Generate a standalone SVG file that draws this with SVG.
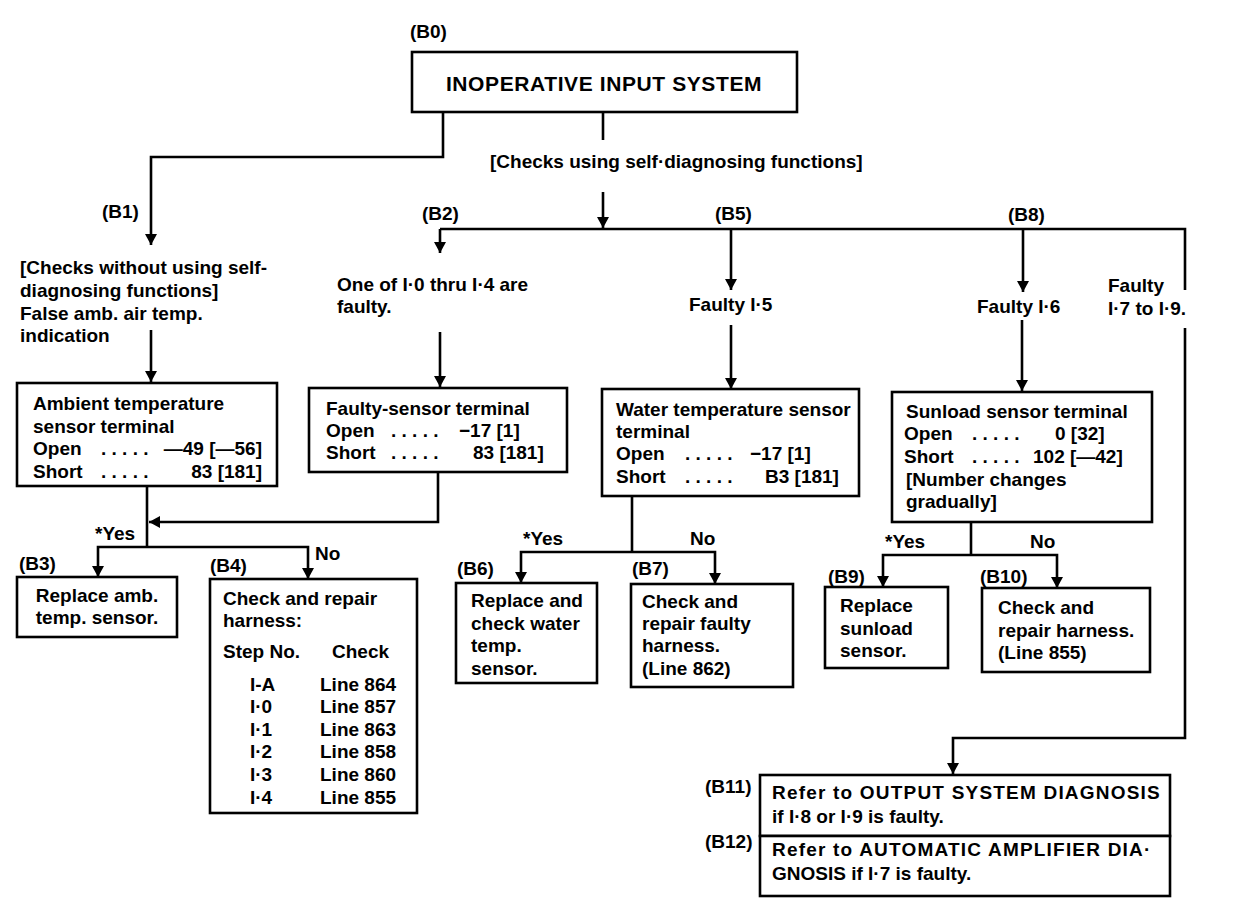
<svg xmlns="http://www.w3.org/2000/svg" width="1248" height="922" viewBox="0 0 1248 922">
<style>
text{font-family:"Liberation Sans",Arial,sans-serif;font-weight:bold;font-size:19px;fill:#000}
.title{font-size:21px;letter-spacing:0.6px}
.wide{letter-spacing:1.2px}
.box{fill:#fff;stroke:#000;stroke-width:2.6}
.ln{fill:none;stroke:#000;stroke-width:2.6}
.arr{fill:none;stroke:#000;stroke-width:2.6;marker-end:url(#ah)}
.mid{text-anchor:middle}
.end{text-anchor:end}
</style>
<defs>
<marker id="ah" viewBox="0 0 11 12" refX="11" refY="6" markerWidth="11" markerHeight="12" markerUnits="userSpaceOnUse" orient="auto">
<path d="M0,0 L11,6 L0,12 z" fill="#000"/>
</marker>
</defs>
<rect width="1248" height="922" fill="#fff"/>

<g id="connectors">
<path class="arr" d="M443,112 V157 H151 V245"/>
<path class="ln" d="M603,112 V140"/>
<path class="arr" d="M603,192 V228"/>
<path class="ln" d="M440,229 H1185 V290"/>
<path class="arr" d="M440,229 V253"/>
<path class="arr" d="M731,229 V290"/>
<path class="arr" d="M1023,229 V292"/>
<path class="arr" d="M1185,328 V738 H953 V774"/>
<path class="arr" d="M151,330 V382"/>
<path class="arr" d="M440,332 V387"/>
<path class="arr" d="M731,325 V389"/>
<path class="arr" d="M1022,320 V391"/>
<path class="ln" d="M147,486 V547"/>
<path class="arr" d="M147,547 H98 V577"/>
<path class="arr" d="M147,547 H308 V579"/>
<path class="arr" d="M438,472 V522 H149"/>
<path class="ln" d="M632,496 V552"/>
<path class="arr" d="M632,552 H521 V583"/>
<path class="arr" d="M632,552 H715 V584"/>
<path class="ln" d="M971,522 V555"/>
<path class="arr" d="M971,555 H883 V587"/>
<path class="arr" d="M971,555 H1057 V588"/>
<text x="490" y="168">[Checks using self·diagnosing functions]</text>
<text x="95" y="540">*Yes</text>
<text x="315" y="560">No</text>
<text x="523" y="545">*Yes</text>
<text x="690" y="545">No</text>
<text x="885" y="548">*Yes</text>
<text x="1030" y="548">No</text>
</g>

<g id="B0">
<text x="410" y="38">(B0)</text>
<rect class="box" x="412" y="52" width="385" height="60"/>
<text class="title mid" x="604" y="91">INOPERATIVE INPUT SYSTEM</text>
</g>

<g id="B1">
<text x="102" y="218">(B1)</text>
<text x="20" y="274">[Checks without using self-</text>
<text x="20" y="297">diagnosing functions]</text>
<text x="20" y="320">False amb. air temp.</text>
<text x="20" y="342">indication</text>
</g>

<g id="B1-terminal">
<rect class="box" x="17" y="383" width="260" height="103"/>
<text x="33" y="410">Ambient temperature</text>
<text x="33" y="433">sensor terminal</text>
<text x="33" y="455">Open</text>
<text x="101" y="455">. . . . .</text>
<text class="end" x="262" y="455">—49 [—56]</text>
<text x="33" y="478">Short</text>
<text x="101" y="478">. . . . .</text>
<text class="end" x="262" y="478">83 [181]</text>
</g>

<g id="B2">
<text x="422" y="220">(B2)</text>
<text x="337" y="291">One of I·0 thru I·4 are</text>
<text x="337" y="313">faulty.</text>
</g>

<g id="B2-terminal">
<rect class="box" x="309" y="388" width="258" height="84"/>
<text x="326" y="415">Faulty-sensor terminal</text>
<text x="326" y="437">Open</text>
<text x="391" y="437">. . . . .</text>
<text x="459" y="437">−17 [1]</text>
<text x="326" y="459">Short</text>
<text x="391" y="459">. . . . .</text>
<text x="473" y="459">83 [181]</text>
</g>

<g id="B5">
<text x="715" y="220">(B5)</text>
<text x="689" y="311">Faulty I·5</text>
</g>

<g id="B5-terminal">
<rect class="box" x="602" y="389" width="257" height="107"/>
<text x="616" y="416">Water temperature sensor</text>
<text x="616" y="438">terminal</text>
<text x="616" y="460">Open</text>
<text x="685" y="460">. . . . .</text>
<text x="750" y="460">−17 [1]</text>
<text x="616" y="483">Short</text>
<text x="685" y="483">. . . . .</text>
<text x="765" y="483">B3 [181]</text>
</g>

<g id="B8">
<text x="1008" y="221">(B8)</text>
<text x="977" y="313">Faulty I·6</text>
<text x="1108" y="292">Faulty</text>
<text x="1108" y="315">I·7 to I·9.</text>
</g>

<g id="B8-terminal">
<rect class="box" x="892" y="392" width="260" height="130"/>
<text x="906" y="418">Sunload sensor terminal</text>
<text x="904" y="440">Open</text>
<text x="972" y="440">. . . . .</text>
<text x="1055" y="440">0 [32]</text>
<text x="904" y="463">Short</text>
<text x="972" y="463">. . . . .</text>
<text x="1033" y="463">102 [—42]</text>
<text x="906" y="486">[Number changes</text>
<text x="906" y="508">gradually]</text>
</g>

<g id="B3">
<text x="19" y="570">(B3)</text>
<rect class="box" x="17" y="577" width="160" height="60"/>
<text class="mid" x="97" y="602">Replace amb.</text>
<text class="mid" x="97" y="624">temp. sensor.</text>
</g>

<g id="B4">
<text x="210" y="572">(B4)</text>
<rect class="box" x="210" y="579" width="207" height="234"/>
<text x="223" y="605">Check and repair</text>
<text x="223" y="627">harness:</text>
<text x="223" y="658">Step No.</text>
<text x="332" y="658">Check</text>
<text x="250" y="691">I-A</text><text x="320" y="691">Line 864</text>
<text x="250" y="713">I·0</text><text x="320" y="713">Line 857</text>
<text x="250" y="736">I·1</text><text x="320" y="736">Line 863</text>
<text x="250" y="758">I·2</text><text x="320" y="758">Line 858</text>
<text x="250" y="781">I·3</text><text x="320" y="781">Line 860</text>
<text x="250" y="804">I·4</text><text x="320" y="804">Line 855</text>
</g>

<g id="B6">
<text x="457" y="575">(B6)</text>
<rect class="box" x="456" y="583" width="141" height="100"/>
<text x="471" y="607">Replace and</text>
<text x="471" y="630">check water</text>
<text x="471" y="652">temp.</text>
<text x="471" y="675">sensor.</text>
</g>

<g id="B7">
<text x="632" y="575">(B7)</text>
<rect class="box" x="631" y="584" width="162" height="103"/>
<text x="642" y="608">Check and</text>
<text x="642" y="630">repair faulty</text>
<text x="642" y="652">harness.</text>
<text x="642" y="675">(Line 862)</text>
</g>

<g id="B9">
<text x="828" y="583">(B9)</text>
<rect class="box" x="825" y="587" width="123" height="81"/>
<text x="840" y="612">Replace</text>
<text x="840" y="635">sunload</text>
<text x="840" y="657">sensor.</text>
</g>

<g id="B10">
<text x="980" y="583">(B10)</text>
<rect class="box" x="982" y="588" width="168" height="84"/>
<text x="998" y="614">Check and</text>
<text x="998" y="637">repair harness.</text>
<text x="998" y="659">(Line 855)</text>
</g>

<g id="B11">
<text x="705" y="793">(B11)</text>
<rect class="box" x="760" y="775" width="410" height="61"/>
<text class="wide" x="772" y="799">Refer to OUTPUT SYSTEM DIAGNOSIS</text>
<text x="772" y="823">if I·8 or I·9 is faulty.</text>
</g>

<g id="B12">
<text x="705" y="848">(B12)</text>
<rect class="box" x="760" y="836" width="410" height="60"/>
<text class="wide" x="772" y="856">Refer to AUTOMATIC AMPLIFIER DIA·</text>
<text x="772" y="880">GNOSIS if I·7 is faulty.</text>
</g>
</svg>
